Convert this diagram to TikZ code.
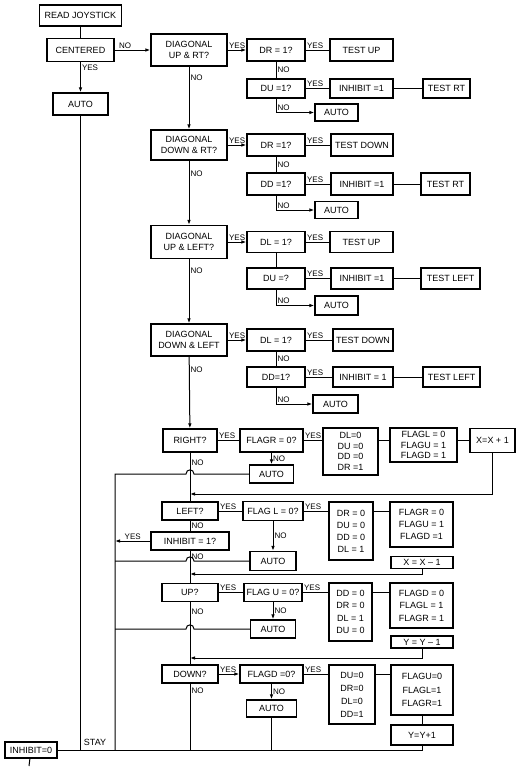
\documentclass[tikz,border=0pt]{standalone}
\usepackage{fontspec}
\setmainfont{Liberation Sans}
\usepackage{tikz}
\usetikzlibrary{arrows.meta}
\tikzset{flowbox/.style 2 args={draw=black,line width=1.3pt,inner sep=1pt,align=center,
           font={\fontsize{9}{10.5}\selectfont},minimum width=#1pt,minimum height=#2pt},
         spread/.style={font={\fontsize{9}{#1}\selectfont}},
         tag/.style={font={\fontsize{8}{9}\selectfont},inner sep=1pt},
         flow/.style={line width=1pt},
         arr/.style={flow,-{Latex[length=5pt,width=3.6pt]}}}

\begin{document}
\begin{tikzpicture}[x=1pt,y=-1pt]
\useasboundingbox (0,0) rectangle (523,771);

% start
\node[flowbox={82}{21},line width=1.7pt] (readjoy) at (80.5,15.5) {READ JOYSTICK};
\node[flowbox={67}{23}] (centered) at (80.5,50) {CENTERED};
\node[flowbox={55}{22}] (autoA) at (80.5,104) {AUTO};

% diagonal up & right
\node[flowbox={76}{32}] (diagA) at (189,50) {DIAGONAL\\UP \& RT?};
\node[flowbox={58}{22}] (drA) at (276,50) {DR = 1?};
\node[flowbox={63}{22}] (tupA) at (361.5,50) {TEST UP};
\node[flowbox={58}{19}] (duA) at (276,88.5) {DU =1?};
\node[flowbox={63}{19}] (inhA) at (361.5,88.5) {INHIBIT =1};
\node[flowbox={47}{19}] (trtA) at (446.5,88.5) {TEST RT};
\node[flowbox={43}{17}] (autoA2) at (336.5,112.5) {AUTO};

% diagonal down & right
\node[flowbox={76}{30}] (diagB) at (189,145) {DIAGONAL\\DOWN \& RT?};
\node[flowbox={58}{22}] (drB) at (276,145) {DR =1?};
\node[flowbox={62}{22}] (tdnB) at (362,145) {TEST DOWN};
\node[flowbox={58}{22}] (ddB) at (276,184) {DD =1?};
\node[flowbox={62}{22}] (inhB) at (362,184) {INHIBIT =1};
\node[flowbox={49}{22}] (trtB) at (445.5,184) {TEST RT};
\node[flowbox={43}{17}] (autoB) at (336.5,210) {AUTO};

% diagonal up & left
\node[flowbox={76}{33}] (diagC) at (189,242) {DIAGONAL\\UP \& LEFT?};
\node[flowbox={58}{21}] (dlC) at (276,242) {DL = 1?};
\node[flowbox={63}{21}] (tupC) at (361.5,242) {TEST UP};
\node[flowbox={58}{21}] (duC) at (276,278.5) {DU =?};
\node[flowbox={62}{21}] (inhC) at (362,278.5) {INHIBIT =1};
\node[flowbox={59}{21}] (tlfC) at (450.5,278.5) {TEST LEFT};
\node[flowbox={43}{19}] (autoC) at (336.5,305.5) {AUTO};

% diagonal down & left
\node[flowbox={76}{32}] (diagD) at (189,340) {DIAGONAL\\DOWN \& LEFT};
\node[flowbox={58}{22}] (dlD) at (276,340) {DL = 1?};
\node[flowbox={60}{22}] (tdnD) at (363,340) {TEST DOWN};
\node[flowbox={58}{20}] (ddD) at (276,377) {DD=1?};
\node[flowbox={60}{20}] (inhD) at (363,377) {INHIBIT = 1};
\node[flowbox={57}{20}] (tlfD) at (451.5,377) {TEST LEFT};
\node[flowbox={45}{18}] (autoD) at (335.5,404) {AUTO};

% right
\node[flowbox={54}{23}] (right) at (190,440.5) {RIGHT?};
\node[flowbox={63}{23}] (flagR) at (271.5,440.5) {FLAGR = 0?};
\node[flowbox={55}{47}] (setR) at (350.5,451.5) {DL=0\\DU =0\\DD =0\\DR =1};
\node[flowbox={67}{34}] (flgR) at (423.5,445) {FLAGL = 0\\FLAGU = 1\\FLAGD = 1};
\node[flowbox={45}{24}] (xinc) at (492.5,440.5) {X=X + 1};
\node[flowbox={44}{18}] (autoR) at (271.5,474) {AUTO};

% left
\node[flowbox={56}{18}] (left) at (190,511) {LEFT?};
\node[flowbox={60}{19}] (flagL) at (273,511) {FLAG L = 0?};
\node[flowbox={44}{58},spread=12] (setL) at (351,531) {DR = 0\\DU = 0\\DD = 0\\DL = 1};
\node[flowbox={63}{45},spread=12] (flgL) at (421.5,524.5) {FLAGR = 0\\FLAGU = 1\\FLAGD =1};
\node[flowbox={62}{12}] (xdec) at (422,562.5) {X = X -- 1};
\node[flowbox={78}{18}] (inhL) at (190,541) {INHIBIT = 1?};
\node[flowbox={46}{19}] (autoL) at (273,561) {AUTO};

% up
\node[flowbox={56}{18}] (up) at (190,592.5) {UP?};
\node[flowbox={58}{18}] (flagU) at (273,592.5) {FLAG U = 0?};
\node[flowbox={43}{58},spread=12.5] (setU) at (350.5,612) {DD = 0\\DR = 0\\DL = 1\\DU = 0};
\node[flowbox={63}{45},spread=12.5] (flgU) at (421.5,605.5) {FLAGD = 0\\FLAGL = 1\\FLAGR = 1};
\node[flowbox={62}{12}] (ydec) at (422,642) {Y = Y -- 1};
\node[flowbox={45}{18}] (autoU) at (273,629) {AUTO};

% down
\node[flowbox={56}{18}] (down) at (190,674) {DOWN?};
\node[flowbox={63}{18}] (flagD) at (271.5,674) {FLAGD =0?};
\node[flowbox={46}{59},spread=13] (setD) at (352,694.5) {DU=0\\DR=0\\DL=0\\DD=1};
\node[flowbox={62}{50},spread=13.5] (flgD) at (422,690) {FLAGU=0\\FLAGL=1\\FLAGR=1};
\node[flowbox={62}{20}] (yinc) at (422,735) {Y=Y+1};
\node[flowbox={50}{17}] (autoD2) at (271.5,708.5) {AUTO};

% end
\node[flowbox={52}{16}] (inh0) at (31,750) {INHIBIT=0};
\node[tag,font={\fontsize{9}{10}\selectfont}] (stay) at (95,742) {STAY};
\coordinate (exit) at (29,766);
\coordinate (colR) at (115,474);
\coordinate (jR) at (190,494);
\coordinate (jL) at (190,574);
\coordinate (jU) at (190,658);

% connectors, start
\draw[flow] (readjoy) -- (centered);
\draw[arr] (centered) -- node[tag,pos=0,above right,xshift=3pt]{NO} (diagA);
\draw[arr] (centered) -- node[tag,pos=0,below right,yshift=-1pt]{YES} (autoA);
\draw[flow] (autoA) -- (autoA |- inh0);

% connectors, diagonals
\draw[arr] (diagA) -- node[tag,pos=0,above right]{YES} (drA);
\draw[flow] (drA) -- node[tag,pos=0,above right]{YES} (tupA);
\draw[flow] (drA) -- node[tag,right]{NO} (duA);
\draw[flow] (duA) -- node[tag,pos=0,above right]{YES} (inhA);
\draw[flow] (inhA) -- (trtA);
\draw[arr] (duA) |- node[tag,pos=0.5,above right]{NO} (autoA2);
\draw[arr] (diagA) -- node[tag,pos=0,below right,yshift=-7pt]{NO} (diagB);

\draw[arr] (diagB) -- node[tag,pos=0,above right]{YES} (drB);
\draw[flow] (drB) -- node[tag,pos=0,above right]{YES} (tdnB);
\draw[flow] (drB) -- node[tag,right]{NO} (ddB);
\draw[flow] (ddB) -- node[tag,pos=0,above right]{YES} (inhB);
\draw[flow] (inhB) -- (trtB);
\draw[arr] (ddB) |- node[tag,pos=0.5,above right]{NO} (autoB);
\draw[arr] (diagB) -- node[tag,pos=0,below right,yshift=-9pt]{NO} (diagC);

\draw[arr] (diagC) -- node[tag,pos=0,above right]{YES} (dlC);
\draw[flow] (dlC) -- node[tag,pos=0,above right]{YES} (tupC);
\draw[flow] (dlC) -- (duC);
\draw[flow] (duC) -- node[tag,pos=0,above right]{YES} (inhC);
\draw[flow] (inhC) -- (tlfC);
\draw[arr] (duC) |- node[tag,pos=0.5,above right]{NO} (autoC);
\draw[arr] (diagC) -- node[tag,pos=0,below right,yshift=-7pt]{NO} (diagD);

\draw[arr] (diagD) -- node[tag,pos=0,above right]{YES} (dlD);
\draw[flow] (dlD) -- node[tag,pos=0,above right]{YES} (tdnD);
\draw[flow] (dlD) -- node[tag,right]{NO} (ddD);
\draw[flow] (ddD) -- node[tag,pos=0,above right]{YES} (inhD);
\draw[flow] (inhD) -- (tlfD);
\draw[arr] (ddD) |- node[tag,pos=0.5,above right]{NO} (autoD);
\draw[arr] (diagD) -- node[tag,pos=0,below right,yshift=-9pt]{NO} (right);

% connectors, right
\draw[flow] (right) -- node[tag,pos=0,above right]{YES} (flagR);
\draw[flow] (flagR.east) -- node[tag,pos=0,above right]{YES} (flagR.east -| setR.west);
\draw[flow] (setR.east |- flagR) -- (flgR.west |- flagR);
\draw[flow] (flgR.east |- xinc) -- (xinc.west);
\draw[arr] (flagR) -- node[tag,right]{NO} (autoR);
\draw[flow] (right) -- node[tag,pos=0,below right,yshift=-6pt]{NO} (left);
\draw[flow] (autoR.west) -- (194,474) .. controls (194,468.5) and (186,468.5) .. (186,474)
  -- (colR) -- (colR |- inh0);
\draw[arr] (xinc) |- (jR);

% connectors, left
\draw[flow] (left) -- node[tag,pos=0,above right]{YES} (flagL);
\draw[flow] (flagL.east) -- node[tag,pos=0,above right]{YES} (flagL.east -| setL.west);
\draw[flow] (setL.east |- flagL) -- (flgL.west |- flagL);
\draw[arr] (flagL) -- node[tag,right]{NO} (autoL);
\draw[flow] (left) -- node[tag,right]{NO} (inhL);
\draw[arr] (inhL.west) -- node[tag,above]{YES} (inhL.west -| colR);
\draw[flow] (inhL) -- node[tag,pos=0,below right,yshift=-2pt]{NO} (up);
\draw[flow] (autoL.west) -- (194,561) .. controls (194,555.5) and (186,555.5) .. (186,561)
  -- (colR |- autoL.west);
\draw[arr] (xdec) |- (jL);

% connectors, up
\draw[flow] (up) -- node[tag,pos=0,above right]{YES} (flagU);
\draw[flow] (flagU.east) -- node[tag,pos=0,above right]{YES} (flagU.east -| setU.west);
\draw[flow] (setU.east |- flagU) -- (flgU.west |- flagU);
\draw[arr] (flagU) -- node[tag,right]{NO} (autoU);
\draw[flow] (up) -- node[tag,pos=0,below right,yshift=-5pt]{NO} (down);
\draw[flow] (autoU.west) -- (194,629) .. controls (194,623.5) and (186,623.5) .. (186,629)
  -- (colR |- autoU.west);
\draw[arr] (ydec) |- (jU);

% connectors, down
\draw[arr] (down) -- node[tag,pos=0,above right]{YES} (flagD);
\draw[flow] (flagD.east) -- node[tag,pos=0,above right]{YES} (flagD.east -| setD.west);
\draw[flow] (setD.east |- flagD) -- (flgD.west |- flagD);
\draw[flow] (flgD) -- (yinc);
\draw[arr] (flagD) -- node[tag,right]{NO} (autoD2);
\draw[flow] (down) -- node[tag,pos=0,below right,yshift=-3pt]{NO} (down |- inh0);
\draw[flow] (autoD2) -- (autoD2 |- inh0);

% collecting line
\draw[flow] (inh0) -- (inh0 -| yinc) -- (yinc);
\draw[flow] (inh0) -- (exit);
\end{tikzpicture}
\end{document}
